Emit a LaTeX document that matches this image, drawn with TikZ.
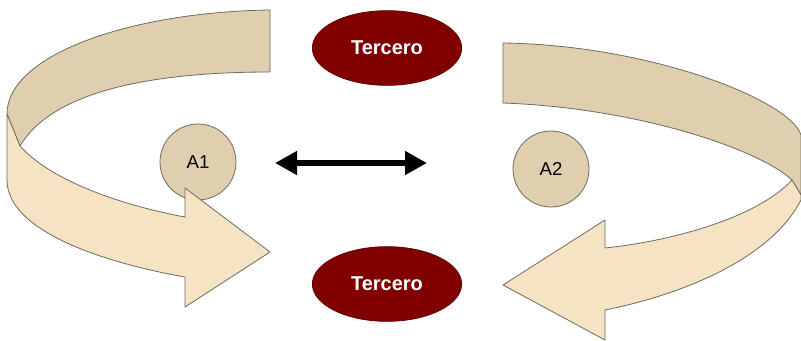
\documentclass[tikz,border=0pt]{standalone}
\usepackage{fontspec}
\setmainfont{Liberation Sans}
\usetikzlibrary{shapes.geometric,arrows.meta}
\definecolor{banddark}{HTML}{DFCFAE}
\definecolor{bandlight}{HTML}{F5E3C4}
\definecolor{edgegray}{HTML}{6E6A60}
\definecolor{tercred}{HTML}{800000}
\tikzset{
  darkband/.style={fill=banddark,draw=edgegray,line width=0.6pt,line join=round},
  lightband/.style={fill=bandlight,draw=edgegray,line width=0.6pt,line join=round},
  agent/.style={circle,minimum size=57pt,inner sep=0pt,fill=banddark,draw=edgegray,line width=0.6pt,font=\fontsize{14pt}{16pt}\selectfont},
  tercero/.style={ellipse,minimum width=112pt,minimum height=56pt,inner sep=0pt,fill=tercred,draw=tercred!80!black,line width=0.6pt,text=white,font=\bfseries\fontsize{15pt}{17pt}\selectfont},
  dblarrow/.style={line width=5pt,{Triangle[length=16.5pt,width=17pt]}-{Triangle[length=16.5pt,width=17pt]}}
}
\begin{document}
\begin{tikzpicture}[x=0.75pt,y=-0.75pt]
\useasboundingbox (0,0) rectangle (801,340);
% agents (drawn first, arrows overlap them)
\node[agent] (a1) at (198,162) {A1};
\node[agent] (a2) at (551,169) {A2};
% left curved arrow
\draw[darkband] (270,10) .. controls (130,12) and (7,55) .. (7,114)
  -- (20,146) .. controls (50,95) and (140,72) .. (270,72) -- cycle;
\draw[lightband] (7,114) -- (7,180) .. controls (7,230) and (100,262) .. (185,277)
  -- (185,307) -- (270,252) -- (185,188) -- (185,217)
  .. controls (120,205) and (50,180) .. (20,146) -- cycle;
% right curved arrow
\draw[darkband] (503,43) .. controls (650,45) and (790,100) .. (801,135)
  -- (801,195) -- (792,180) .. controls (760,150) and (640,108) .. (503,103) -- cycle;
\draw[lightband] (792,180) -- (801,195) -- (801,200) .. controls (770,260) and (680,295) .. (605,310)
  -- (605,340) -- (503,285) -- (605,220) -- (605,248)
  .. controls (680,240) and (760,215) .. (792,180) -- cycle;
% third parties
\node[tercero] (t1) at (387,48) {Tercero};
\node[tercero] (t2) at (387,284) {Tercero};
% double arrow
\coordinate (pl) at (275,163);
\coordinate (pr) at (427,163);
\draw[dblarrow] (pl) -- (pr);
\end{tikzpicture}
\end{document}
